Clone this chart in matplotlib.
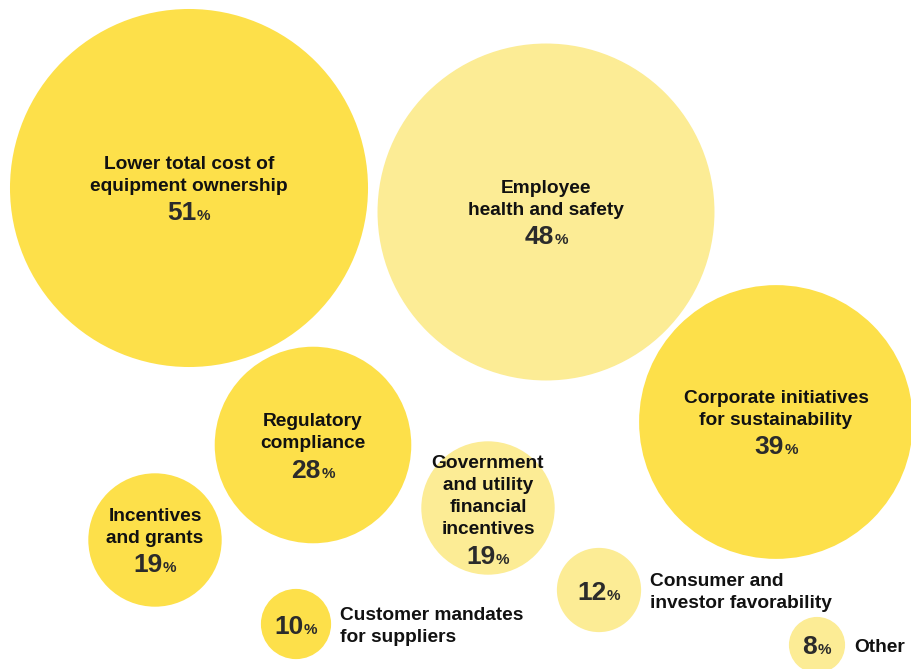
import matplotlib
matplotlib.use('Agg')
import matplotlib.pyplot as plt
from matplotlib.patches import Circle

# survey results: share of respondents per driver
labels = ['Lower total cost of\nequipment ownership',
          'Employee\nhealth and safety',
          'Corporate initiatives\nfor sustainability',
          'Regulatory\ncompliance',
          'Incentives\nand grants',
          'Government\nand utility\nfinancial\nincentives',
          'Consumer and\ninvestor favorability',
          'Customer mandates\nfor suppliers',
          'Other']
values = [51, 48, 39, 28, 19, 19, 12, 10, 8]
tone = ['dark', 'light', 'dark', 'dark', 'dark', 'light', 'light', 'dark', 'light']

# bubble layout (pixels from top-left) and where the caption goes
centers = [(189, 188), (546, 212), (776, 422), (313, 445), (155, 540),
           (488, 508), (599, 590), (296, 624), (817, 645)]
caption_inside = [True, True, True, True, True, True, False, False, False]

colors = {'dark': '#FDE04A', 'light': '#FCEC95'}
scale = 3.51          # radius in px per percentage point
line_h = 22
font = 'Liberation Sans'
lab_size = 13.8

fig = plt.figure(figsize=(9.12, 6.69), dpi=100)
ax = fig.add_axes([0, 0, 1, 1])
ax.set_xlim(0, 912)
ax.set_ylim(669, 0)
ax.axis('off')
renderer = fig.canvas.get_renderer()


def percent(x, y, v):
    # big number plus a small % sign, centred on x, baseline at y
    t1 = ax.text(x, y, str(v), fontsize=19, fontweight='bold', family=font,
                 color='#2b2b2b', ha='left', va='baseline')
    t2 = ax.text(x, y, '%', fontsize=11, fontweight='bold', family=font,
                 color='#2b2b2b', ha='left', va='baseline')
    w1 = t1.get_window_extent(renderer).width
    w2 = t2.get_window_extent(renderer).width
    gap = 0.5
    x0 = x - (w1 + gap + w2) / 2
    t1.set_x(x0)
    t2.set_x(x0 + w1 + gap)


for lab, v, tn, (cx, cy), inside in zip(labels, values, tone, centers, caption_inside):
    r = scale * v
    ax.add_patch(Circle((cx, cy), r, facecolor=colors[tn], edgecolor='none'))
    lines = lab.split('\n')
    n = len(lines)
    if inside:
        last = cy + 3 + (n - 2) * 11.5
        for i, ln in enumerate(lines):
            ax.text(cx, last - (n - 1 - i) * line_h, ln, fontsize=lab_size, fontweight='bold',
                    family=font, color='#111111', ha='center', va='baseline')
        percent(cx, last + 29.5, v)
    else:
        percent(cx, cy + 9.5, v)
        for i, ln in enumerate(lines):
            yc = cy + (i - (n - 1) / 2) * line_h
            ax.text(cx + r + 9, yc + 6.6, ln, fontsize=lab_size, fontweight='bold',
                    family=font, color='#111111', ha='left', va='baseline')

fig.savefig('out.png', dpi=100)
